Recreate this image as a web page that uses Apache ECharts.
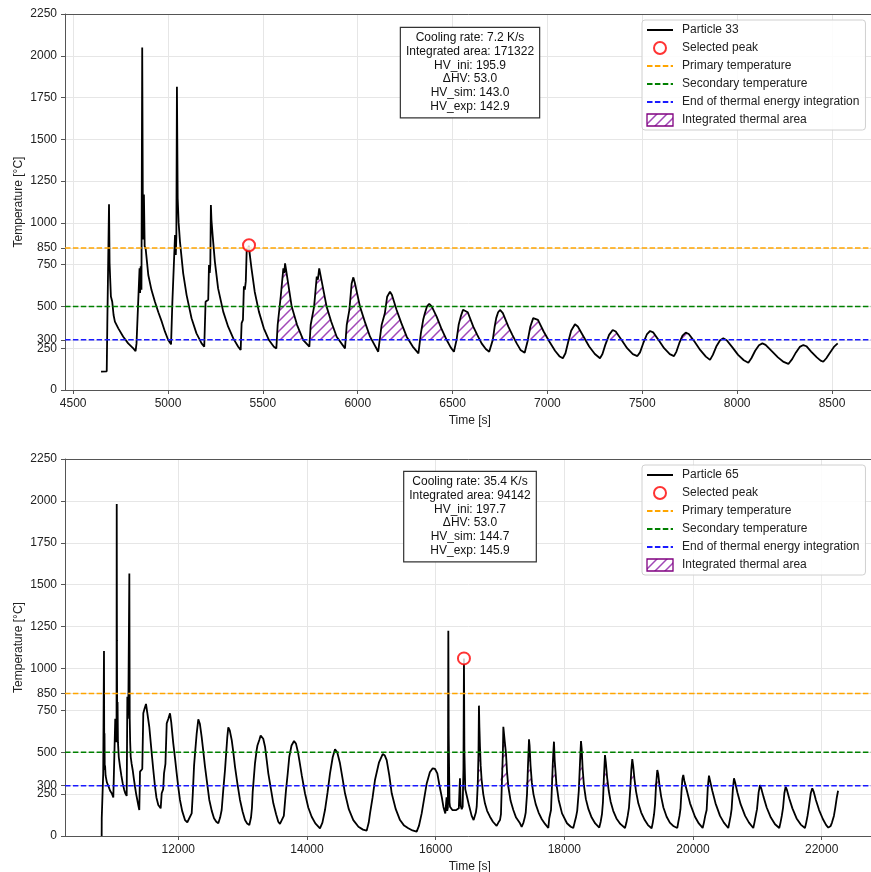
<!DOCTYPE html>
<html>
<head>
<meta charset="utf-8">
<script src="https://cdn.jsdelivr.net/npm/echarts@6/dist/echarts.min.js"></script>
<style>
html,body{margin:0;padding:0;background:#fff;}
#chart{width:871px;height:872px;}
</style>
</head>
<body>
<div id="chart"></div>
<script>
// ---------------- DATA ----------------
const yTicks = [0, 250, 300, 500, 750, 850, 1000, 1250, 1500, 1750, 2000, 2250];
const topXTicks = [4500, 5000, 5500, 6000, 6500, 7000, 7500, 8000, 8500];
const botXTicks = [12000, 14000, 16000, 18000, 20000, 22000];

const primaryTemp = 850;
const secondaryTemp = 500;
const integrationEnd = 300;

const topName = 'Particle 33';
const botName = 'Particle 65';

const topInfo = ['Cooling rate: 7.2 K/s', 'Integrated area: 171322', 'HV_ini: 195.9', '\u0394HV: 53.0', 'HV_sim: 143.0', 'HV_exp: 142.9'];
const botInfo = ['Cooling rate: 35.4 K/s', 'Integrated area: 94142', 'HV_ini: 197.7', '\u0394HV: 53.0', 'HV_sim: 144.7', 'HV_exp: 145.9'];

const topPeak = [5427, 866];
const botPeak = [16440, 1060];

const topWindow = [5575, 7790];
const botWindow = [16620, 19930];

// Particle 33: [time s, temperature °C]
const topParticle = [
[4647,110],[4677,112],[4680,389],[4686,395],[4689,1111],[4692,760],[4695,670],[4699,560],[4706,528],[4713,449],[4720,409],[4738,369],[4764,319],[4790,279],[4817,249],[4829,233],
[4834,279],[4843,285],[4850,728],[4853,580],[4856,740],[4860,600],[4864,2050],[4867,1180],[4870,900],[4873,1170],[4877,860],[4882,848],[4896,688],[4913,598],[4931,528],[4949,465],[4967,409],[4984,349],[5001,299],[5016,273],
[5023,528],[5033,528],[5037,928],[5041,808],[5044,920],[5047,1815],[5051,1147],[5056,1000],[5063,888],[5080,698],[5098,568],[5124,429],[5150,339],[5177,279],[5191,259],
[5198,528],[5212,540],[5216,748],[5220,700],[5223,750],[5226,1107],[5229,1017],[5235,928],[5247,768],[5264,608],[5291,469],[5317,379],[5344,309],[5370,259],[5383,239],
[5388,400],[5395,420],[5400,620],[5405,600],[5410,650],[5415,848],[5420,830],[5426,864],[5430,820],[5440,728],[5457,588],[5479,469],[5505,369],[5532,299],[5558,259],[5571,249],
[5578,389],[5588,400],[5594,558],[5600,550],[5608,728],[5613,700],[5617,758],[5625,700],[5652,499],[5680,390],[5713,299],[5745,259],
[5752,389],[5760,400],[5770,499],[5784,678],[5790,660],[5797,728],[5836,499],[5860,410],[5889,319],[5933,249],
[5942,389],[5956,479],[5968,638],[5977,674],[5985,640],[6012,499],[6040,400],[6065,319],[6108,229],
[6126,389],[6143,459],[6155,558],[6170,588],[6180,570],[6205,479],[6230,400],[6258,319],[6290,260],[6320,219],
[6333,340],[6345,420],[6354,459],[6365,500],[6377,515],[6390,500],[6416,439],[6440,370],[6469,299],[6490,255],[6507,229],
[6521,300],[6532,390],[6543,439],[6555,480],[6565,489],[6580,465],[6609,379],[6630,330],[6653,279],[6675,245],[6693,229],
[6712,300],[6722,380],[6730,430],[6740,465],[6750,479],[6765,460],[6794,379],[6815,330],[6838,279],[6858,240],[6880,223],
[6895,290],[6910,380],[6925,430],[6934,439],[6950,420],[6980,350],[7010,290],[7040,235],[7065,200],[7081,190],
[7095,220],[7110,290],[7125,355],[7145,393],[7160,380],[7190,320],[7220,260],[7250,215],[7277,190],
[7290,215],[7305,270],[7325,330],[7344,359],[7360,350],[7390,300],[7420,250],[7450,215],[7474,203],
[7488,225],[7505,280],[7525,335],[7541,353],[7557,345],[7585,300],[7615,250],[7645,215],[7667,203],
[7680,230],[7695,280],[7712,325],[7729,343],[7745,335],[7775,290],[7805,240],[7835,200],[7857,180],
[7872,210],[7890,260],[7910,298],[7927,309],[7945,298],[7975,255],[8005,210],[8035,178],[8059,163],
[8075,190],[8095,235],[8115,268],[8133,279],[8150,270],[8180,235],[8215,195],[8245,168],[8270,156],
[8290,185],[8310,225],[8330,258],[8349,269],[8365,262],[8390,230],[8420,195],[8440,176],[8454,169],
[8470,190],[8490,225],[8510,258],[8530,279]
];

// Particle 65: [time s, temperature °C]
const botParticle = [
[10809,0],[10810,106],[10830,106],[10833,374],[10840,380],[10845,1104],[10849,500],[10853,613],[10857,394],[10862,420],[10870,360],[10890,320],[10912,300],[10940,270],[10965,255],[10990,230],[11001,219],
[11010,240],[11020,700],[11030,690],[11040,560],[11043,1981],[11046,1169],[11050,700],[11056,800],[11062,560],[11075,470],[11094,414],[11115,360],[11136,314],[11160,275],[11176,255],[11198,239],
[11208,831],[11215,700],[11225,850],[11239,1567],[11245,700],[11252,560],[11260,473],[11275,430],[11291,394],[11310,340],[11327,294],[11345,250],[11363,215],[11380,180],[11394,155],
[11405,384],[11420,390],[11440,400],[11456,732],[11475,760],[11498,788],[11520,730],[11549,652],[11587,493],[11610,400],[11638,294],[11660,230],[11689,185],[11726,165],
[11742,255],[11765,280],[11778,374],[11800,430],[11820,672],[11845,700],[11871,732],[11890,680],[11922,553],[11950,460],[11975,374],[12000,290],[12026,215],[12060,150],[12104,95],[12140,82],[12171,76],
[12208,135],[12225,250],[12245,420],[12260,493],[12286,613],[12311,696],[12335,670],[12363,592],[12390,500],[12415,414],[12450,310],[12482,215],[12520,150],[12555,106],[12590,85],[12622,76],
[12650,110],[12674,155],[12700,280],[12726,394],[12745,500],[12762,592],[12777,648],[12800,630],[12830,573],[12855,500],[12881,414],[12920,310],[12959,215],[13000,145],[13037,95],[13070,75],[13104,66],
[13130,110],[13145,170],[13156,260],[13175,270],[13192,434],[13218,513],[13230,540],[13259,573],[13280,600],[13296,609],[13320,580],[13348,533],[13375,450],[13399,374],[13440,280],[13477,195],[13520,130],[13554,85],[13580,72],[13607,66],
[13640,120],[13674,274],[13700,370],[13725,473],[13760,540],[13799,567],[13830,550],[13860,500],[13881,453],[13920,360],[13969,255],[14020,170],[14073,115],[14130,75],[14202,46],
[14240,80],[14280,155],[14320,260],[14358,374],[14400,470],[14436,517],[14470,500],[14513,434],[14550,350],[14591,255],[14650,160],[14720,95],[14800,55],[14870,38],[14928,32],
[14960,80],[14980,135],[15020,230],[15057,334],[15120,440],[15177,489],[15210,480],[15239,453],[15280,360],[15317,255],[15380,160],[15446,95],[15510,62],[15575,46],[15640,33],[15705,26],
[15740,60],[15783,135],[15820,220],[15861,314],[15910,380],[15954,404],[15990,400],[16026,374],[16060,300],[16094,235],[16120,175],[16134,155],[16150,135],[16160,140],[16170,231],[16180,150],[16190,170],
[16197,1225],[16203,600],[16215,200],[16223,175],[16240,165],[16260,155],[16290,150],[16320,155],[16360,165],[16378,344],[16390,180],[16405,160],[16420,175],[16432,400],[16440,1060],[16447,500],[16460,280],[16490,230],[16520,180],[16560,120],[16590,95],[16611,85],
[16625,140],[16638,175],[16655,314],[16666,500],[16673,778],[16680,650],[16689,533],[16700,420],[16715,334],[16740,250],[16766,195],[16800,150],[16844,115],[16890,85],[16948,60],
[16975,80],[17000,95],[17015,130],[17026,274],[17045,500],[17052,652],[17067,662],[17075,560],[17093,493],[17110,380],[17130,294],[17165,210],[17207,155],[17250,110],[17311,76],[17337,55],
[17365,80],[17385,110],[17400,140],[17420,250],[17435,420],[17451,577],[17460,540],[17475,420],[17495,320],[17520,250],[17555,190],[17600,140],[17650,100],[17700,72],[17751,48],
[17766,106],[17793,155],[17819,414],[17829,500],[17839,563],[17850,453],[17876,314],[17912,215],[17964,135],[18041,76],[18100,55],[18139,48],
[18160,80],[18180,110],[18200,150],[18225,270],[18245,450],[18259,567],[18270,520],[18285,400],[18305,300],[18335,220],[18375,160],[18425,110],[18480,75],[18543,50],
[18565,85],[18585,130],[18600,200],[18615,350],[18632,483],[18645,440],[18665,350],[18690,270],[18720,205],[18760,150],[18810,105],[18870,72],[18943,48],
[18965,80],[18985,120],[19005,170],[19025,280],[19042,400],[19056,459],[19070,420],[19090,340],[19115,265],[19150,195],[19195,140],[19250,95],[19300,65],[19357,46],
[19375,80],[19395,130],[19410,190],[19425,300],[19445,394],[19460,370],[19480,300],[19505,235],[19540,170],[19590,115],[19640,80],[19700,58],[19756,48],
[19770,80],[19790,120],[19805,160],[19820,260],[19835,340],[19849,364],[19865,330],[19902,274],[19954,195],[20031,115],[20090,75],[20150,48],
[20170,80],[20190,120],[20212,155],[20230,290],[20248,360],[20265,330],[20300,270],[20350,195],[20420,120],[20480,80],[20548,48],
[20565,80],[20585,120],[20600,160],[20620,280],[20637,344],[20655,320],[20690,260],[20740,190],[20810,120],[20870,80],[20937,48],
[20955,80],[20975,120],[20995,160],[21020,260],[21041,304],[21060,285],[21095,235],[21145,170],[21210,110],[21275,70],[21341,48],
[21360,80],[21380,120],[21400,170],[21420,255],[21440,294],[21460,275],[21495,225],[21545,165],[21610,105],[21675,68],[21740,48],
[21760,80],[21780,120],[21800,170],[21830,255],[21854,285],[21875,265],[21910,215],[21960,155],[22020,100],[22070,65],[22103,50],
[22140,60],[22160,80],[22190,120],[22210,165],[22235,230],[22255,270]
];

// ---------------- HELPERS ----------------
const FONT = 'Liberation Sans, Arial, Helvetica, sans-serif';
const TOP_X = [4457, 8724];
const BOT_X = [10239, 22821];
const SPINE = '#555';

// area above 'base' inside a time window, with exact crossings inserted
function hatchData(pts, win, base) {
  const out = [];
  for (let i = 0; i < pts.length - 1; i++) {
    const a = pts[i], b = pts[i + 1];
    if (b[0] < win[0] || a[0] > win[1]) continue;
    if (out.length === 0) out.push([a[0], Math.max(a[1], base)]);
    if ((a[1] - base) * (b[1] - base) < 0) {
      const f = (base - a[1]) / (b[1] - a[1]);
      out.push([a[0] + f * (b[0] - a[0]), base]);
    }
    out.push([b[0], Math.max(b[1], base)]);
  }
  return out;
}

function makeHatch() {
  const s = 10;
  const c = document.createElement('canvas');
  c.width = s; c.height = s;
  const g = c.getContext('2d');
  g.strokeStyle = 'rgba(145,40,170,0.85)';
  g.lineWidth = 1.5;
  g.beginPath();
  g.moveTo(0, s); g.lineTo(s, 0);
  g.moveTo(-s / 2, s / 2); g.lineTo(s / 2, -s / 2);
  g.moveTo(s / 2, s * 1.5); g.lineTo(s * 1.5, s / 2);
  g.stroke();
  return c;
}
const hatch = { image: makeHatch(), repeat: 'repeat' };
const plain = v => String(v);

function xAxis(idx, range, ticks) {
  return {
    gridIndex: idx, type: 'value', position: 'bottom', min: range[0], max: range[1],
    name: 'Time [s]', nameLocation: 'middle', nameGap: 25, nameMoveOverlap: false,
    nameTextStyle: { fontSize: 12, color: '#222', fontFamily: FONT },
    axisLine: { show: true, onZero: false, lineStyle: { color: SPINE, width: 1 } },
    axisTick: { show: true, customValues: ticks, length: 4, lineStyle: { color: SPINE } },
    axisLabel: { customValues: ticks, formatter: plain, margin: 8, fontSize: 12, color: '#222', fontFamily: FONT },
    splitLine: { show: true, lineStyle: { color: '#e6e6e6', width: 1 } }
  };
}
function topSpine(idx, range) {
  return {
    gridIndex: idx, type: 'value', position: 'top', min: range[0], max: range[1],
    axisLine: { show: true, onZero: false, lineStyle: { color: SPINE, width: 1 } },
    axisTick: { show: false }, axisLabel: { show: false }, splitLine: { show: false }
  };
}
function yAxis(idx) {
  return {
    gridIndex: idx, type: 'value', min: 0, max: 2250,
    name: 'Temperature [\u00b0C]', nameLocation: 'middle', nameGap: 40, nameRotate: 90, nameMoveOverlap: false,
    nameTextStyle: { fontSize: 12, color: '#222', fontFamily: FONT },
    axisLine: { show: true, onZero: false, lineStyle: { color: SPINE, width: 1 } },
    axisTick: { show: true, customValues: yTicks, length: 4, lineStyle: { color: SPINE } },
    axisLabel: { customValues: yTicks, formatter: plain, margin: 8, fontSize: 12, color: '#222', fontFamily: FONT, hideOverlap: false },
    splitLine: { show: true, lineStyle: { color: '#e6e6e6', width: 1 } }
  };
}
function seriesFor(idx, name, pts, range, peak, win) {
  const ax = { xAxisIndex: idx, yAxisIndex: idx };
  const dash = (nm, val, col) => Object.assign({
    type: 'line', name: nm, data: [[range[0], val], [range[1], val]], symbol: 'none', silent: true,
    lineStyle: { color: col, width: 1.5, type: [5.5, 2.4] }, itemStyle: { color: col }, z: 4
  }, ax);
  return [
    Object.assign({ type: 'line', name: 'Integrated thermal area', data: hatchData(pts, win, integrationEnd),
      symbol: 'none', lineStyle: { width: 0, opacity: 0 }, itemStyle: { color: 'purple' },
      areaStyle: { origin: integrationEnd, color: hatch, opacity: 1 }, z: 2 }, ax),
    Object.assign({ type: 'line', name: name, data: pts, symbol: 'none', showSymbol: false,
      lineStyle: { color: '#000', width: 1.8 }, itemStyle: { color: '#000' }, z: 3 }, ax),
    dash('Primary temperature', primaryTemp, 'orange'),
    dash('Secondary temperature', secondaryTemp, 'green'),
    dash('End of thermal energy integration', integrationEnd, '#1a1aff'),
    Object.assign({ type: 'scatter', name: 'Selected peak', data: [peak], symbol: 'emptyCircle', symbolSize: 12,
      itemStyle: { color: 'red', borderWidth: 1.3 }, z: 6 }, ax)
  ];
}
function legendFor(top, name) {
  const noSym = { opacity: 0 };
  return {
    orient: 'vertical', left: 642, top: top, selectedMode: false,
    itemWidth: 26, itemHeight: 12, itemGap: 4, padding: [3, 6, 3, 4],
    borderColor: '#d0d0d0', borderWidth: 1, borderRadius: 3, backgroundColor: 'rgba(255,255,255,0.85)',
    textStyle: { fontSize: 12, color: '#222', fontFamily: FONT, lineHeight: 14, padding: [0, 0, 0, 4] },
    data: [
      { name: name, itemStyle: noSym },
      { name: 'Selected peak' },
      { name: 'Primary temperature', itemStyle: noSym },
      { name: 'Secondary temperature', itemStyle: noSym },
      { name: 'End of thermal energy integration', itemStyle: noSym },
      { name: 'Integrated thermal area', icon: 'rect', itemStyle: { color: hatch, borderColor: 'purple', borderWidth: 1.3 } }
    ]
  };
}
function infoBox(top, lines) {
  return {
    type: 'text', x: 470, y: top, z: 50,
    style: {
      text: lines.join('\n'), align: 'center', verticalAlign: 'top',
      font: '12px ' + FONT, lineHeight: 13.7, fill: '#111',
      backgroundColor: '#fff', borderColor: '#333', borderWidth: 1.2, padding: [3, 5, 4, 5]
    }
  };
}

const chart = echarts.init(document.getElementById('chart'), null, { renderer: 'canvas' });
chart.setOption({
  animation: false,
  backgroundColor: '#fff',
  textStyle: { fontFamily: FONT },
  grid: [
    { left: 65, top: 14, width: 809.5, height: 376, outerBoundsMode: 'none', containLabel: false, show: false },
    { left: 65, top: 459, width: 809.5, height: 377, outerBoundsMode: 'none', containLabel: false, show: false }
  ],
  xAxis: [xAxis(0, TOP_X, topXTicks), xAxis(1, BOT_X, botXTicks), topSpine(0, TOP_X), topSpine(1, BOT_X)],
  yAxis: [yAxis(0), yAxis(1)],
  legend: [legendFor(20, topName), legendFor(465, botName)],
  series: [].concat(
    seriesFor(0, topName, topParticle, TOP_X, topPeak, topWindow),
    seriesFor(1, botName, botParticle, BOT_X, botPeak, botWindow)
  ),
  graphic: [infoBox(28, topInfo), infoBox(472, botInfo)]
});
</script>
</body>
</html>
